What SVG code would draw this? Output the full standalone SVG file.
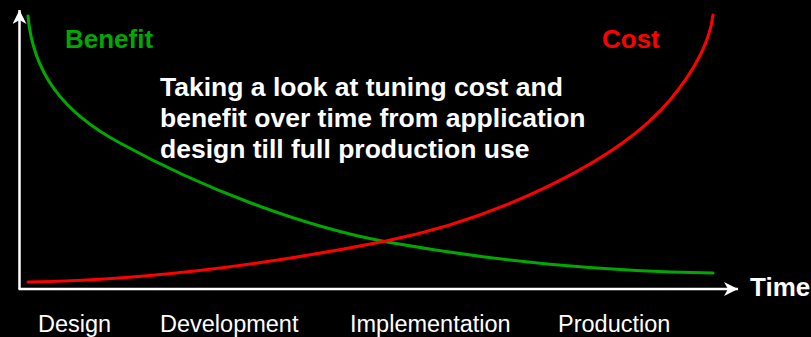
<svg xmlns="http://www.w3.org/2000/svg" width="811" height="337" viewBox="0 0 811 337">
  <style>
    .axis { fill: none; stroke: #ffffff; stroke-width: 2.5; }
    .curve { fill: none; stroke-width: 3; stroke-linecap: round; }
    .benefit { stroke: #00a800; }
    .cost { stroke: #ff0000; }
    .label { font-family: "Liberation Sans", Arial, sans-serif; font-weight: bold; font-size: 26px; }
    .note { font-family: "Liberation Sans", Arial, sans-serif; font-weight: bold; font-size: 26.5px; fill: #ffffff; }
    .phase { font-family: "Liberation Sans", Arial, sans-serif; font-size: 23.5px; fill: #ffffff; }
  </style>
  <defs>
    <marker id="arrow" markerWidth="16" markerHeight="16" refX="14" refY="7" orient="auto" markerUnits="userSpaceOnUse">
      <path d="M0,0 L14,7 L0,14 L4,7 Z" fill="#ffffff"/>
    </marker>
  </defs>
  <rect width="811" height="337" fill="#000000"/>

  <g id="connectors">
    <!-- axes -->
    <path class="axis" d="M19.5,289 L19.5,10" marker-end="url(#arrow)"/>
    <path class="axis" d="M18.5,289 L738,289" marker-end="url(#arrow)"/>
    <!-- benefit curve -->
    <path class="curve benefit" d="M28,16 C33,72 62,112 120,143 C200,187 300,226 387,242 C500,262 600,271 713,273"/>
    <!-- cost curve -->
    <path class="curve cost" d="M28,282 C150,280 280,262 386,241 C500,218 620,160 670,100 C695,70 710,40 713,15"/>
  </g>

  <g id="benefit-label">
    <text class="label" x="65" y="47.5" fill="#00a800">Benefit</text>
  </g>
  <g id="cost-label">
    <text class="label" x="602" y="47.5" fill="#ff0000">Cost</text>
  </g>
  <g id="description">
    <text class="note" x="160" y="96">Taking a look at tuning cost and</text>
    <text class="note" x="160" y="127">benefit over time from application</text>
    <text class="note" x="160" y="158">design till full production use</text>
  </g>
  <g id="time-label">
    <text class="label" x="750" y="295.5" fill="#ffffff" font-size="25">Time</text>
  </g>
  <g id="phases">
    <text class="phase" x="38" y="332">Design</text>
    <text class="phase" x="160" y="332">Development</text>
    <text class="phase" x="350" y="332">Implementation</text>
    <text class="phase" x="558" y="332">Production</text>
  </g>
</svg>
